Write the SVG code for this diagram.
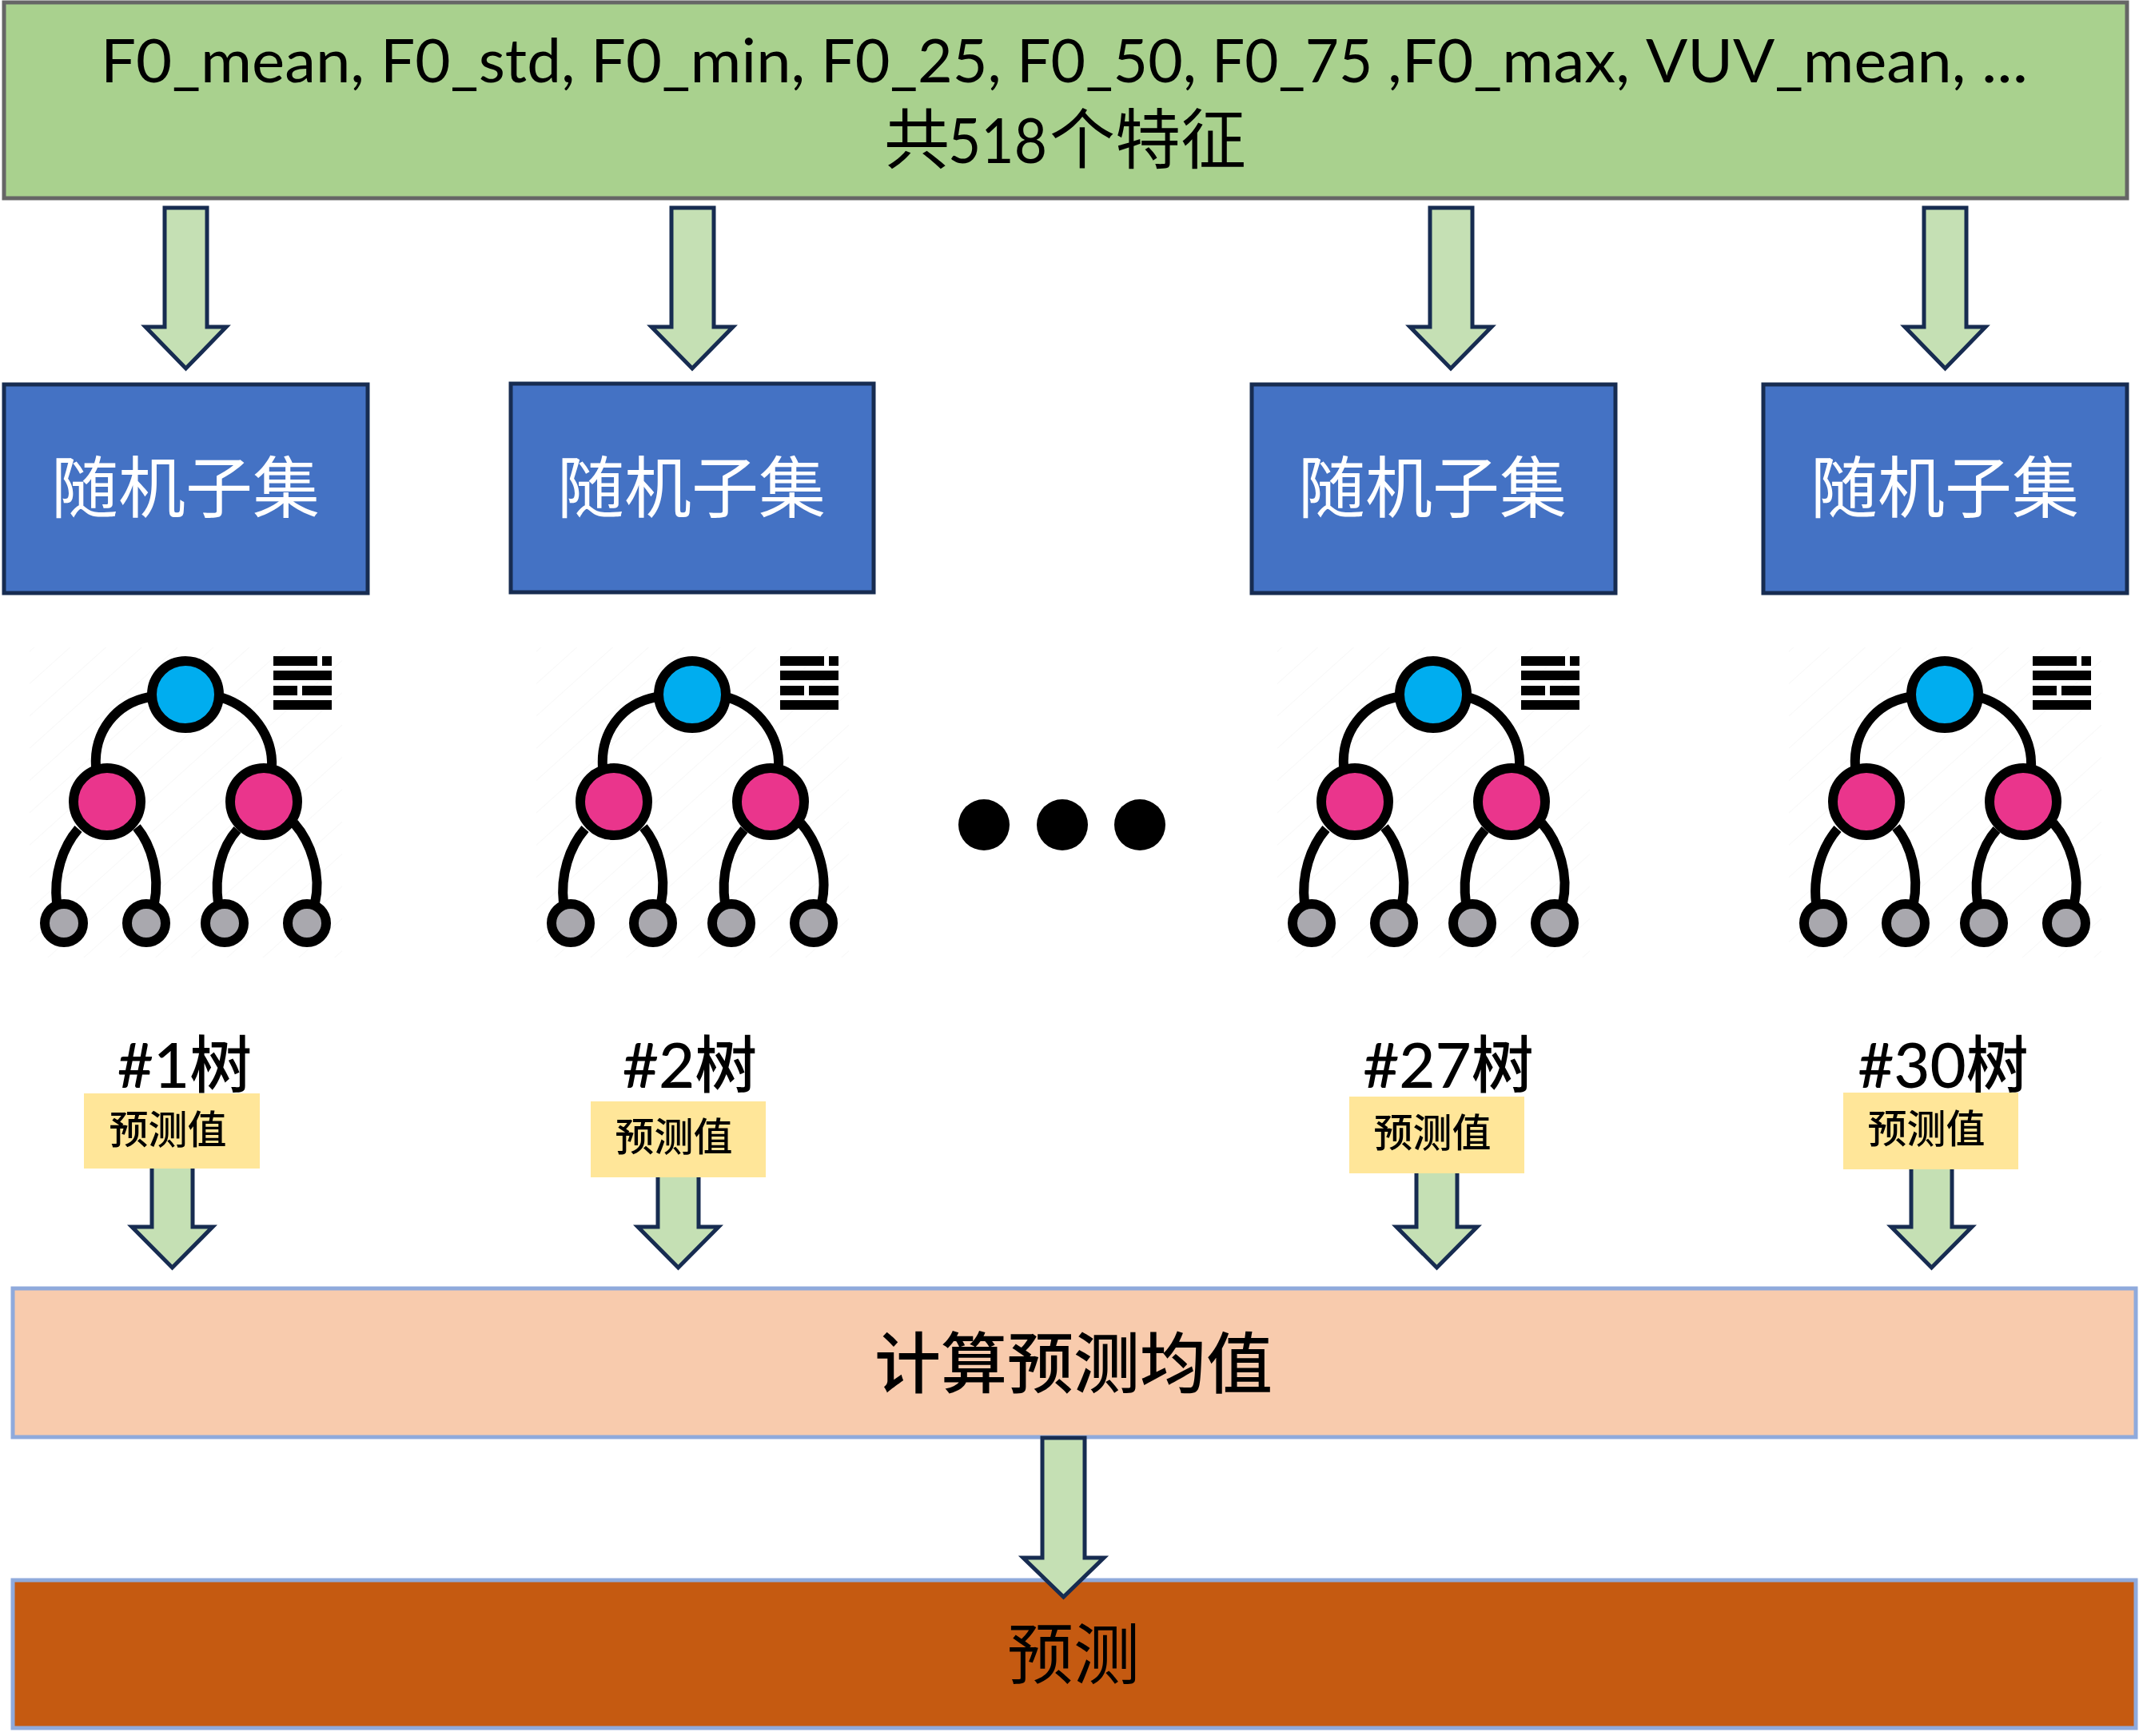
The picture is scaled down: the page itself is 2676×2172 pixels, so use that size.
<svg xmlns="http://www.w3.org/2000/svg" xmlns:xlink="http://www.w3.org/1999/xlink" width="2676" height="2172" viewBox="0 0 2676 2172">
<style>
text{font-family:Lato,"Noto Sans CJK SC",sans-serif;text-anchor:middle;fill:#000}
.sub{fill:#4472C4;stroke:#172C51;stroke-width:5}
.subt{fill:#fff;font-size:84px}
.tree{font-size:78px;font-weight:500}
.yel{fill:#FFE699}
.yelt{font-size:49px;font-weight:500}
.arr{fill:#C5E0B4;stroke:#172C51;stroke-width:5}
.bar{stroke:#8FAADC;stroke-width:5}
.big{font-size:83px}
.heavy{font-weight:500}
.edge{fill:none;stroke:#000;stroke-width:12}
.n{stroke:#000;stroke-width:12}
.st{text-anchor:start}
</style>
<defs>
<pattern id="hatch" width="30" height="30" patternUnits="userSpaceOnUse" patternTransform="rotate(-42)"><line x1="0" y1="0" x2="30" y2="0" stroke="#f8f8f8" stroke-width="2"/></pattern>
<g id="icon">
<rect x="37" y="810" width="391" height="388" fill="url(#hatch)"/>
<path class="edge" d="M187 872C145 880 117 915 120 960"/>
<path class="edge" d="M278 873C315 885 342 920 340 960"/>
<path class="edge" d="M98 1037C78 1060 67 1095 71 1130"/>
<path class="edge" d="M171 1035C190 1058 200 1095 193 1130"/>
<path class="edge" d="M297 1038C277 1060 268 1095 273 1130"/>
<path class="edge" d="M368 1030C390 1055 402 1095 394 1130"/>
<circle class="n" cx="232" cy="869" r="42" fill="#00ADEF"/>
<circle class="n" cx="134" cy="1003" r="42" fill="#EA358C"/>
<circle class="n" cx="330" cy="1003" r="42" fill="#EA358C"/>
<circle class="n" cx="80" cy="1155" r="24" fill="#A9A8AE"/>
<circle class="n" cx="183" cy="1155" r="24" fill="#A9A8AE"/>
<circle class="n" cx="281" cy="1155" r="24" fill="#A9A8AE"/>
<circle class="n" cx="384" cy="1155" r="24" fill="#A9A8AE"/>
<path d="M342 821h55v12h-55zM403 821h12v12h-12zM342 839h73v12h-73zM342 858h30v12h-30zM378 858h37v12h-37zM342 876h73v12h-73z"/>
</g>
</defs>
<rect width="2676" height="2172" fill="#fff"/>
<g id="features">
<rect x="5" y="3" width="2656" height="245" fill="#A9D18E" stroke="#666" stroke-width="5"/>
<text class="st" y="103" font-size="76"><tspan x="126" textLength="350" lengthAdjust="spacingAndGlyphs">F0_mean, </tspan><tspan x="476" textLength="263" lengthAdjust="spacingAndGlyphs">F0_std, </tspan><tspan x="739" textLength="288" lengthAdjust="spacingAndGlyphs">F0_min, </tspan><tspan x="1027" textLength="245" lengthAdjust="spacingAndGlyphs">F0_25, </tspan><tspan x="1272" textLength="244" lengthAdjust="spacingAndGlyphs">F0_50, </tspan><tspan x="1516" textLength="220" lengthAdjust="spacingAndGlyphs">F0_75 </tspan><tspan x="1736" textLength="323" lengthAdjust="spacingAndGlyphs">,F0_max, </tspan><tspan x="2059" textLength="420" lengthAdjust="spacingAndGlyphs">VUV_mean, </tspan><tspan x="2479" textLength="58" lengthAdjust="spacingAndGlyphs">...</tspan></text>
<text class="st" y="204" font-size="82"><tspan x="1106">共</tspan><tspan x="1186" textLength="124" lengthAdjust="spacingAndGlyphs" font-size="78">518</tspan><tspan x="1313">个特征</tspan></text>
</g>
<g id="subset1"><rect class="sub" x="5" y="481" width="455" height="261"/><text class="subt" x="232" y="641">随机子集</text></g>
<g id="subset2"><rect class="sub" x="639" y="480" width="454" height="261"/><text class="subt" x="865" y="641">随机子集</text></g>
<g id="subset3"><rect class="sub" x="1566" y="481" width="455" height="261"/><text class="subt" x="1792" y="641">随机子集</text></g>
<g id="subset4"><rect class="sub" x="2206" y="481" width="455" height="261"/><text class="subt" x="2433" y="641">随机子集</text></g>
<g id="tree1"><use href="#icon"/><text class="tree" x="231" y="1361">#1树</text></g>
<g id="tree2"><use href="#icon" x="634"/><text class="tree" x="863" y="1361">#2树</text></g>
<g id="tree3"><use href="#icon" x="1561"/><text class="tree" x="1812" y="1361">#27树</text></g>
<g id="tree4"><use href="#icon" x="2201"/><text class="tree" x="2431" y="1361">#30树</text></g>
<g id="ellipsis"><circle cx="1231" cy="1032" r="32"/><circle cx="1329" cy="1032" r="32"/><circle cx="1426" cy="1032" r="32"/></g>
<g id="pred1"><rect class="yel" x="105" y="1368" width="220" height="94"/><text class="yelt" x="210" y="1431">预测值</text></g>
<g id="pred2"><rect class="yel" x="739" y="1378" width="219" height="95"/><text class="yelt" x="843" y="1440">预测值</text></g>
<g id="pred3"><rect class="yel" x="1688" y="1372" width="219" height="96"/><text class="yelt" x="1792" y="1435">预测值</text></g>
<g id="pred4"><rect class="yel" x="2306" y="1367" width="219" height="96"/><text class="yelt" x="2410" y="1430">预测值</text></g>
<g id="mean"><rect class="bar" x="16" y="1612" width="2656" height="186" fill="#F8CBAD"/><text class="big heavy" x="1343" y="1736">计算预测均值</text></g>
<g id="result"><rect class="bar" x="16" y="1977" width="2656" height="185" fill="#C55A11"/><text class="big" x="1343" y="2100">预测</text></g>
<g id="connectors">
<path class="arr" d="M206 260H259V409H283L232.500 461L182 409H206Z"/>
<path class="arr" d="M840 260H893V409H917L866 461L815 409H840Z"/>
<path class="arr" d="M1789 260H1842V409H1866L1815 461L1764 409H1789Z"/>
<path class="arr" d="M2407 260H2460V409H2484L2433.500 461L2383 409H2407Z"/>
<path class="arr" d="M190 1462V1535H165L215.500 1586L266 1535H241V1462"/>
<path class="arr" d="M823 1473V1535H798L848.500 1586L899 1535H874V1473"/>
<path class="arr" d="M1772 1468V1535H1747L1797.500 1586L1848 1535H1823V1468"/>
<path class="arr" d="M2391 1463V1535H2366L2416.500 1586L2467 1535H2442V1463"/>
<path class="arr" d="M1304 1799H1357V1949H1381L1330.500 1998L1280 1949H1304Z"/>
</g>
</svg>
